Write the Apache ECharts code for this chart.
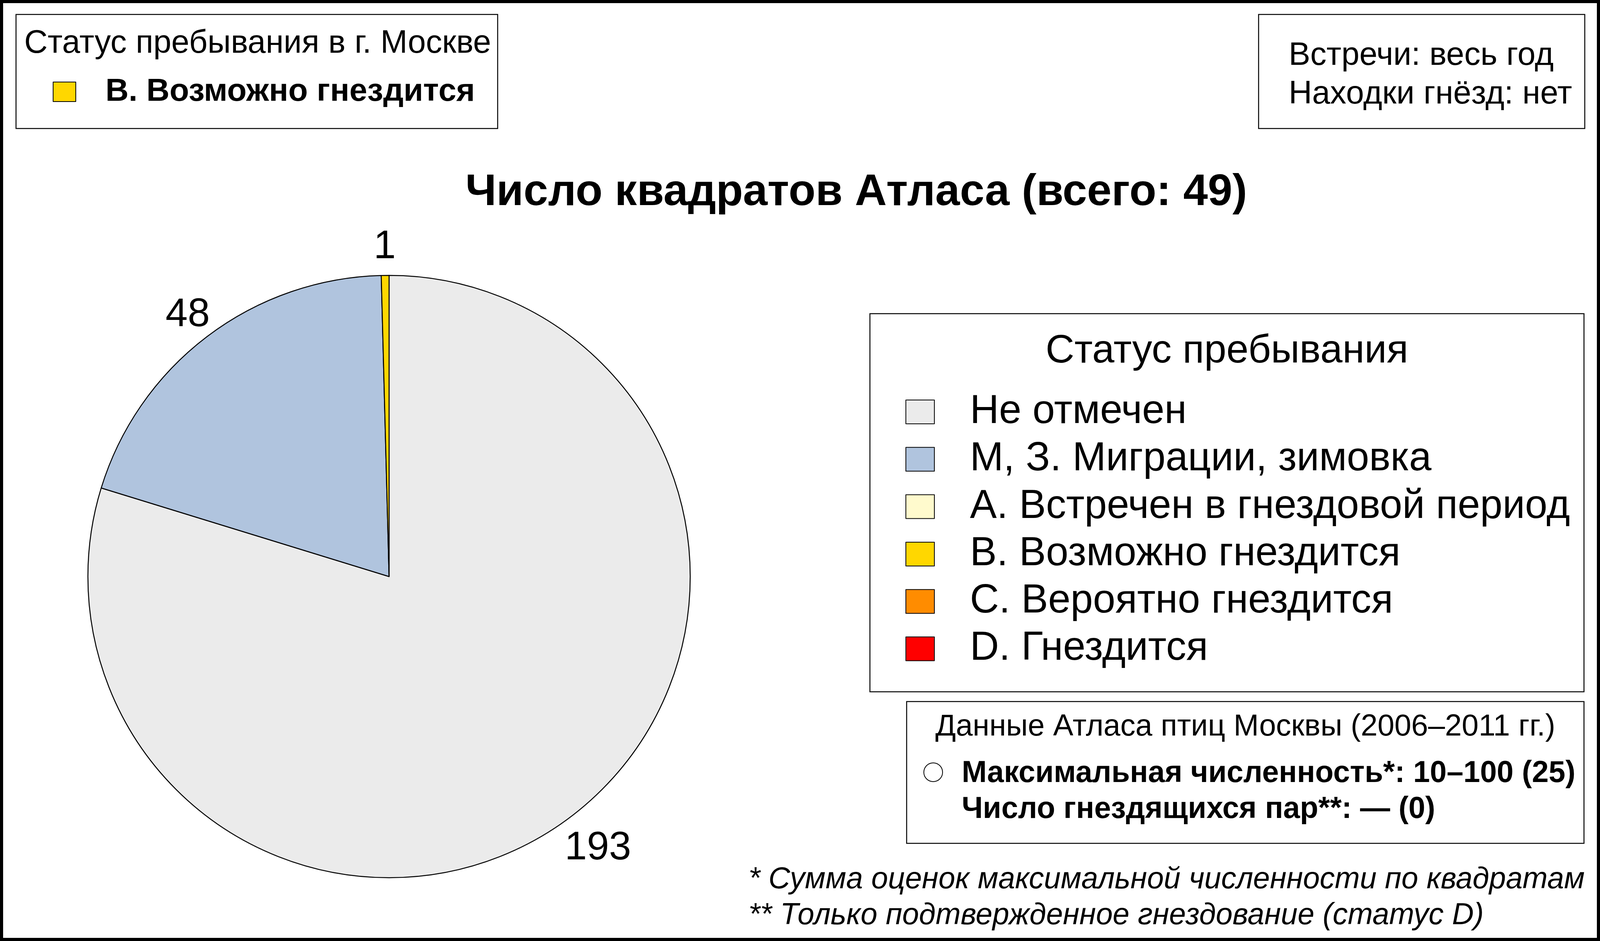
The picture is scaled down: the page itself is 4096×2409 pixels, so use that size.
<!DOCTYPE html>
<html>
<head>
<meta charset="utf-8">
<script src="https://cdn.jsdelivr.net/npm/echarts@6/dist/echarts.min.js"></script>
<style>
html, body { margin: 0; padding: 0; background: #fff; }
#chart { width: 4096px; height: 2409px; }
</style>
</head>
<body>
<div id="chart"></div>
<script>
// ---- data ----
const categories = ['Не отмечен', 'М, З. Миграции, зимовка', 'А. Встречен в гнездовой период', 'В. Возможно гнездится', 'С. Вероятно гнездится', 'D. Гнездится'];
const counts = [193, 48, 0, 1, 0, 0];
const colors = ['#EBEBEB', '#B0C4DE', '#FFFACD', '#FFD700', '#FF8C00', '#FF0000'];
const statusLabel = 'В. Возможно гнездится';
const chartTitle = 'Число квадратов Атласа (всего: 49)';
const topLeftTitle = 'Статус пребывания в г. Москве';
const topRightLines = ['Встречи: весь год', 'Находки гнёзд: нет'];
const legendTitle = 'Статус пребывания';
const atlasTitle = 'Данные Атласа птиц Москвы (2006–2011 гг.)';
const atlasLines = ['Максимальная численность*: 10–100 (25)', 'Число гнездящихся пар**: — (0)'];
const footnotes = ['* Сумма оценок максимальной численности по квадратам', '** Только подтвержденное гнездование (статус D)'];

const FF = '"Liberation Sans", Arial, Helvetica, sans-serif';

const pieData = categories.map((name, i) => ({
  name: name,
  value: counts[i],
  itemStyle: { color: colors[i], borderColor: '#000', borderWidth: counts[i] > 0 ? 2.5 : 0 },
  label: { show: counts[i] > 0 }
}));

function txt(x, y, text, opts) {
  opts = opts || {};
  return {
    type: 'text', x: x, y: y, silent: true,
    style: {
      text: text, fill: '#000',
      fontFamily: FF,
      fontSize: opts.size || 80,
      fontWeight: opts.weight || 'normal',
      fontStyle: opts.style || 'normal',
      align: opts.align || 'left',
      verticalAlign: 'middle'
    }
  };
}
function box(x, y, w, h, lw) {
  return { type: 'rect', silent: true, shape: { x: x, y: y, width: w, height: h },
    style: { fill: 'none', stroke: '#000', lineWidth: lw || 2.5 } };
}

const chart = echarts.init(document.getElementById('chart'), null, { renderer: 'canvas' });
chart.setOption({
  animation: false,
  backgroundColor: '#fff',
  graphic: { elements: [
    box(4, 4, 4088, 2401, 8),
    box(41, 37, 1233, 292),
    txt(62, 112, topLeftTitle, { size: 83 }),
    box(3222, 37, 835, 292),
    txt(3299, 143, topRightLines[0], { size: 83 }),
    txt(3299, 242, topRightLines[1], { size: 83 }),
    txt(2192, 494, chartTitle, { size: 113, weight: 'bold', align: 'center' }),
    box(2227, 803, 1828, 968),
    txt(3141, 900, legendTitle, { size: 102, align: 'center' }),
    box(2321, 1796, 1734, 363),
    txt(3188, 1862, atlasTitle, { size: 77.5, align: 'center' }),
    { type: 'circle', silent: true, shape: { cx: 2389, cy: 1977, r: 24 }, style: { fill: '#fff', stroke: '#000', lineWidth: 2 } },
    txt(2462, 1981, atlasLines[0], { size: 77, weight: 'bold' }),
    txt(2462, 2073, atlasLines[1], { size: 77, weight: 'bold' }),
    txt(1916, 2253, footnotes[0], { size: 77, style: 'italic' }),
    txt(1916, 2345, footnotes[1], { size: 77, style: 'italic' })
  ]},
  legend: [
    {
      data: categories,
      orient: 'vertical',
      left: 2318, top: 1003,
      padding: 0,
      itemGap: 18.3,
      itemWidth: 73, itemHeight: 61,
      icon: 'rect',
      selectedMode: false,
      itemStyle: { borderColor: '#000', borderWidth: 2 },
      textStyle: { fontFamily: FF, fontSize: 103, color: '#000', lineHeight: 61, padding: [0, 0, 0, 86] }
    },
    {
      data: [statusLabel],
      orient: 'vertical',
      left: 135, top: 194,
      padding: 0,
      itemWidth: 58, itemHeight: 50,
      icon: 'rect',
      selectedMode: false,
      itemStyle: { borderColor: '#000', borderWidth: 2 },
      textStyle: { fontFamily: FF, fontSize: 82, fontWeight: 'bold', color: '#000', lineHeight: 50, padding: [0, 0, 0, 71] }
    }
  ],
  series: [{
    type: 'pie',
    center: [996, 1476],
    radius: [0, 771],
    startAngle: 90,
    clockwise: true,
    avoidLabelOverlap: false,
    silent: true,
    emphasis: { disabled: true },
    data: pieData,
    label: { position: 'outside', formatter: '{c}', fontFamily: FF, fontSize: 102, color: '#000', distanceToLabelLine: 0 },
    labelLine: { show: false, length: 82, length2: 0 },
    labelLayout: function (p) {
      return { align: 'center', verticalAlign: 'middle', dx: p.align === 'left' ? 28 : 0, dy: 10 };
    }
  }]
});
</script>
</body>
</html>
